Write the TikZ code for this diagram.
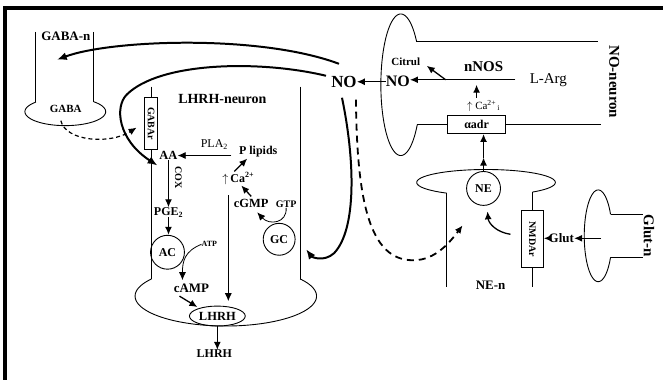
\documentclass[tikz,border=0pt]{standalone}
\usepackage{fontspec}
\setmainfont{Liberation Serif}
\usetikzlibrary{arrows.meta,shapes.geometric}
\begin{document}
\begin{tikzpicture}[x=1pt,y=-1pt,
  wall/.style={line width=0.9pt},
  arr/.style={-{Latex[length=8pt,width=7pt]}, line width=1.3pt},
  tarr/.style={-{Latex[length=8pt,width=7pt]}, line width=0.8pt},
  bigarr/.style={-{Latex[length=10pt,width=8pt]}, line width=2pt},
  tb/.style={inner sep=0pt, font=\fontsize{#1}{#1}\selectfont\bfseries},
  tr/.style={inner sep=0pt, font=\fontsize{#1}{#1}\selectfont},
  cell/.style={draw, circle, line width=0.9pt, inner sep=0pt},
  rbox/.style={draw, fill=white, line width=0.8pt, inner sep=0pt}
]
\path[fill=white] (0,0) rectangle (665,381);
\draw[line width=4pt] (5,381) -- (5,8) -- (665,8);

% GABA neuron
\draw[wall] (36,32) -- (36,102.4);
\draw[wall] (94,32) -- (94,102.1);
\draw[wall, domain=-45.3:223.3, samples=90, smooth, variable=\t] plot ({65.5+40.5*cos(\t)},{112+14*sin(\t)});
\node[tb=13] (gaban) at (66,36) {GABA-n};
\node[tb=11] (gaba) at (66,109) {GABA};

% LHRH neuron
\draw[wall] (152,87) -- (152,279.8);
\draw[wall] (301,87) -- (301,279.8);
\draw[wall, domain=-35:215, samples=120, smooth, variable=\t] plot ({226.5+91*cos(\t)},{297+30*sin(\t)});
\node[rbox, rotate=-90, minimum width=52pt, minimum height=13pt, tb=10] (gabar) at (151.5,124) {GABAr};
\node[tb=14] (lhrhn) at (223,99) {LHRH-neuron};

% NO neuron
\draw[wall, domain=34.3:322.7, samples=100, smooth, variable=\t] plot ({402+20*cos(\t)},{85+71*sin(\t)});
\draw[wall] (418,42) -- (600,42);
\node[rbox, minimum width=58pt, minimum height=18pt, tb=12] (adr) at (478,125) {αadr};
\draw[wall] (418.5,125) -- (adr.west);
\draw[wall] (adr.east) -- (603,125);
\node[tb=15, rotate=-90] (noneuron) at (616,82) {NO-neuron};

% NE neuron
\draw[wall, domain=124.6:408, samples=100, smooth, variable=\t] plot ({487.5+69.5*cos(\t)},{183+13*sin(\t)});
\draw[wall] (448,193.7) -- (448,288);
\draw[wall] (534,192.7) -- (534,288);
\node[rbox, rotate=-90, minimum width=57pt, minimum height=22pt, tb=10] (nmda) at (534,240) {NMDAr};
\node[cell, minimum size=34pt, tb=12] (ne) at (485,189) {NE};
\node[tb=13] (nen) at (492,286) {NE-n};

% Glut neuron
\draw[wall, domain=27.9:332.1, samples=90, smooth, variable=\t] plot ({600+14*cos(\t)},{236.5+46*sin(\t)});
\draw[wall] (612.4,215) -- (645,215);
\draw[wall] (612.4,258) -- (645,258);
\node[tb=15, rotate=-90] (glutn) at (651,236.5) {Glut-n};
\node[tb=13] (glut) at (563,239) {Glut};

% NO neuron contents
\node[tb=17] (no1) at (345,82) {NO};
\node[tb=16] (no2) at (399,82) {NO};
\node[tr=15] (larg) at (550,80) {L-Arg};
\node[tb=15] (nnos) at (485,67) {nNOS};
\node[tb=11] (citrul) at (407,62) {Citrul};
\node[tr=11] (cai) at (485,106) {$\uparrow$ Ca\textsuperscript{2+}\textsubscript{\,i}};

% LHRH contents
\node[tb=12.5] (aa) at (169,156) {AA};
\node[tr=12] (pla) at (215,145) {PLA\textsubscript{2}};
\node[tb=12] (plip) at (259,152) {P lipids};
\node[tb=10, rotate=-90] (cox) at (179,178) {COX};
\node[tb=12] (pge) at (169,213) {PGE\textsubscript{2}};
\node[cell, minimum size=34pt, tb=12] (ac) at (168,253) {AC};
\node[tb=8] (atp) at (210,245) {ATP};
\node[tb=13] (camp) at (192,289) {cAMP};
\node[draw, ellipse, line width=0.9pt, inner sep=0pt, minimum width=56pt, minimum height=20pt, tb=12.5] (lhrhe) at (218,317) {LHRH};
\node[tb=12] (lhrhout) at (215,355) {LHRH};
\node[tb=12] (ca) at (239,179) {$\uparrow$\,Ca\textsuperscript{2+}};
\node[tb=12.5] (cgmp) at (252,204) {cGMP};
\node[tb=10] (gtp) at (287,205) {GTP};
\node[cell, minimum size=32pt, tb=12] (gc) at (280,240) {GC};

% coordinates
\coordinate (topstart) at (340,64);
\coordinate (gabain) at (57,60);
\coordinate (loopstart) at (327,76);
\coordinate (aain) at (158,166);
\coordinate (nodown) at (343,98);
\coordinate (lhrhwall) at (307,250);
\coordinate (dashstart) at (357,100);
\coordinate (nein) at (464,226);
\coordinate (gabaout) at (61,121);
\coordinate (gabarin) at (137,128);
\coordinate (largL) at (517,80);
\coordinate (cit0) at (447,80);
\coordinate (cit1) at (428,66);
\coordinate (ua0) at (478,98);
\coordinate (ua1) at (478,85);
\coordinate (nemid) at (485,158);
\coordinate (nm0) at (512,235);
\coordinate (nm1) at (489,212);
\coordinate (gl0) at (603,239);
\coordinate (pl0) at (232,156);
\coordinate (campin) at (183,281);
\coordinate (cp0) at (180,297);
\coordinate (cp1) at (198,308);
\coordinate (lg0) at (229,196);
\coordinate (lg1) at (229,302);
\coordinate (cg0) at (252,197);
\coordinate (cg1) at (242,186);
\coordinate (cl0) at (235,172);
\coordinate (cl1) at (248,159);
\coordinate (gt1) at (258,213);

% connectors
\draw[bigarr] (topstart) .. controls (260,34) and (110,40) .. (gabain);
\draw[bigarr] (loopstart) .. controls (260,60) and (160,62) .. (127,95) .. controls (115,107) and (118,140) .. (aain);
\draw[bigarr] (nodown) .. controls (356,160) and (358,230) .. (335,254) .. controls (325,263) and (313,258) .. (lhrhwall);
\draw[arr, line width=1.8pt, dash pattern=on 7pt off 5pt] (dashstart) .. controls (358,200) and (370,262) .. (415,261) .. controls (437,261) and (452,242) .. (nein);
\draw[arr, line width=1.2pt, dash pattern=on 4pt off 3pt] (gabaout) .. controls (66,142) and (110,145) .. (gabarin);

\draw[arr] (no2.west) -- (no1.east);
\draw[arr] (largL) -- (no2.east |- largL);
\draw[arr] (cit0) -- (cit1);
\draw[arr] (ua0) -- (ua1);
\draw[arr] (ne.north) -- (nemid);
\draw[arr] (nemid) -- (ne.north |- adr.south);
\draw[arr] (nm0) .. controls (498,233) and (490,224) .. (nm1);
\draw[arr] (glut.west) -- (glut.west -| nmda.north);
\draw[arr] (gl0) -- (glut.east);

\draw[tarr] (pl0) -- (aa.east);
\draw[arr] (aa.south) -- (aa.south |- pge.north);
\draw[arr] (pge.south) -- (pge.south |- ac.north);
\draw[tarr] (atp.west) .. controls (185,252) and (183,262) .. (campin);
\draw[arr] (cp0) -- (cp1);
\draw[arr] (lhrhe.south) -- (lhrhe.south |- lhrhout.north);
\draw[tarr] (lg0) -- (lg1);
\draw[arr] (cg0) -- (cg1);
\draw[arr] (cl0) -- (cl1);
\draw[tarr] (gtp.south) .. controls (288,224) and (270,226) .. (gt1);
\end{tikzpicture}
\end{document}
